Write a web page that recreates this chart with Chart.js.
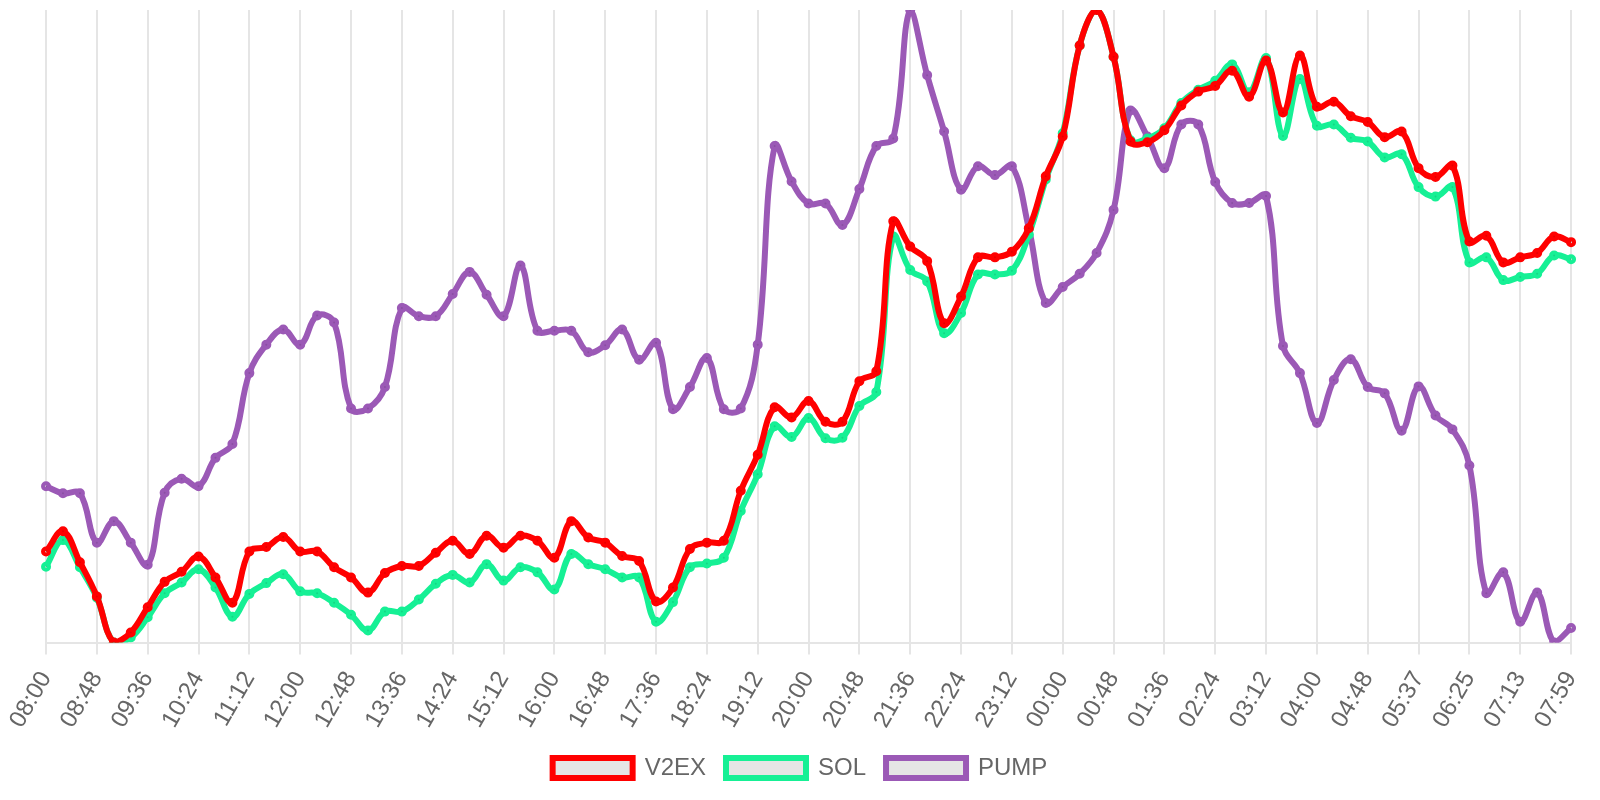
<!DOCTYPE html>
<html>
<head>
<meta charset="utf-8">
<script src="https://cdn.jsdelivr.net/npm/chart.js@4/dist/chart.umd.min.js"></script>
<style>
  html, body { margin: 0; padding: 0; background: #fff; }
  #wrap { width: 1600px; height: 800px; }
</style>
</head>
<body>
<div id="wrap"><canvas id="grafico"></canvas></div>
<script>
// horas (cada 16 min aprox.)
var horas = [
  "08:00","08:16","08:32","08:48","09:04","09:20","09:36","09:52","10:08","10:24","10:40","10:56",
  "11:12","11:28","11:44","12:00","12:16","12:32","12:48","13:04","13:20","13:36","13:52","14:08",
  "14:24","14:40","14:56","15:12","15:28","15:44","16:00","16:16","16:32","16:48","17:04","17:20",
  "17:36","17:52","18:08","18:24","18:40","18:56","19:12","19:28","19:44","20:00","20:16","20:32",
  "20:48","21:04","21:20","21:36","21:52","22:08","22:24","22:40","22:56","23:12","23:28","23:44",
  "00:00","00:16","00:32","00:48","01:04","01:20","01:36","01:52","02:08","02:24","02:40","02:56",
  "03:12","03:28","03:44","04:00","04:16","04:32","04:48","05:04","05:21","05:37","05:53","06:09",
  "06:25","06:41","06:57","07:13","07:28","07:44","07:59"
];

// valores normalizados 0-100
var v2ex = [
  14.4,17.6,12.7,7.3,0,1.6,5.6,9.6,11.2,13.6,10.3,6.3,
  14.4,15.1,16.7,14.4,14.4,11.9,10.3,7.9,11.0,12.1,12.1,14.2,
  16.1,14.0,16.9,15.0,16.9,16.1,13.4,19.2,16.6,15.8,13.7,12.9,
  6.5,8.7,14.8,15.8,16.1,24.0,29.7,37.2,35.6,38.2,34.9,34.9,
  41.3,42.9,66.6,62.6,60.3,50.5,54.7,60.9,60.9,61.8,65.5,73.7,
  80.0,94.4,100,92.6,79.2,79.1,81.0,84.9,87.1,88.0,90.4,86.3,
  92.0,83.8,92.8,84.7,85.5,83.2,82.3,79.9,80.8,75.0,73.6,75.4,
  63.4,64.3,60.1,60.9,61.6,64.2,63.3
];
var sol = [
  12.0,16.2,11.9,7.1,0,0.8,4.0,7.8,9.5,11.6,8.7,4.1,
  7.7,9.4,10.8,8.1,7.8,6.3,4.4,1.9,4.9,4.9,6.8,9.3,
  10.7,9.5,12.4,9.8,11.9,11.1,8.4,14.0,12.4,11.6,10.3,10.3,
  3.3,6.4,11.9,12.5,13.4,20.8,26.6,34.2,32.5,35.5,32.3,32.4,
  37.4,39.6,64.2,58.9,57.1,48.9,52.1,58.2,58.2,58.8,64.5,73.2,
  80.5,94.4,100,92.6,79.4,79.7,81.3,85.3,87.4,88.8,91.4,87.0,
  92.4,80.1,89.1,81.7,81.9,79.8,79.2,76.7,77.2,72.0,70.5,72.0,
  60.1,60.9,57.3,57.8,58.3,61.2,60.6
];
var pump = [
  24.7,23.6,23.6,15.8,19.2,15.8,12.3,23.7,25.9,24.7,29.2,31.4,
  42.6,47.1,49.5,47.1,51.7,50.6,37.0,37.0,40.4,52.9,51.6,51.6,
  55.1,58.6,55.0,51.6,59.6,49.3,49.3,49.3,45.9,47.0,49.5,44.7,
  47.4,36.9,40.4,45.0,36.9,37.0,47.1,78.5,72.9,69.4,69.4,66.0,
  71.7,78.5,79.7,100,89.7,80.8,71.6,75.3,73.9,75.3,65.5,53.7,
  56.2,58.3,61.6,68.4,84.1,80.0,75.0,81.9,81.9,72.8,69.5,69.5,
  70.6,46.9,42.6,34.7,41.5,44.8,40.4,39.4,33.5,40.5,35.9,33.7,
  28.0,7.8,11.1,3.3,7.9,0,2.3
];

var nombres = ["V2EX", "SOL", "PUMP"];
var colores = ["#ff0000", "#16f095", "#9b59b6"];

Chart.defaults.font.size = 24;

var series = [v2ex, sol, pump];
var datasets = series.map(function (datos, i) {
  return {
    label: nombres[i],
    data: datos,
    borderColor: colores[i],
    borderWidth: 6,
    pointRadius: 2,
    tension: 0.4,
    fill: false
  };
});

var ctx = document.getElementById("grafico").getContext("2d");
new Chart(ctx, {
  type: "line",
  data: { labels: horas, datasets: datasets },
  options: {
    responsive: true,
    maintainAspectRatio: false,
    animation: false,
    layout: { padding: { top: 8, bottom: 10 } },
    plugins: {
      legend: {
        position: "bottom",
        labels: { boxWidth: 80, boxHeight: 20, padding: 20 }
      },
      tooltip: { enabled: false }
    },
    scales: {
      x: {
        grid: { lineWidth: 2, tickLength: 12 },
        border: { width: 2 },
        ticks: {
          autoSkip: false,
          minRotation: 60,
          maxRotation: 60,
          padding: 12,
          callback: function (val, idx) {
            return idx % 3 === 0 ? horas[idx] : null;
          }
        },
        // ajuste fino del area del grafico
        afterFit: function (scale) {
          scale.paddingLeft += 4;
          scale.paddingRight -= 8;
          scale.height -= 9;
        }
      },
      y: {
        display: false,
        min: 0,
        max: 100
      }
    }
  }
});
</script>
</body>
</html>
